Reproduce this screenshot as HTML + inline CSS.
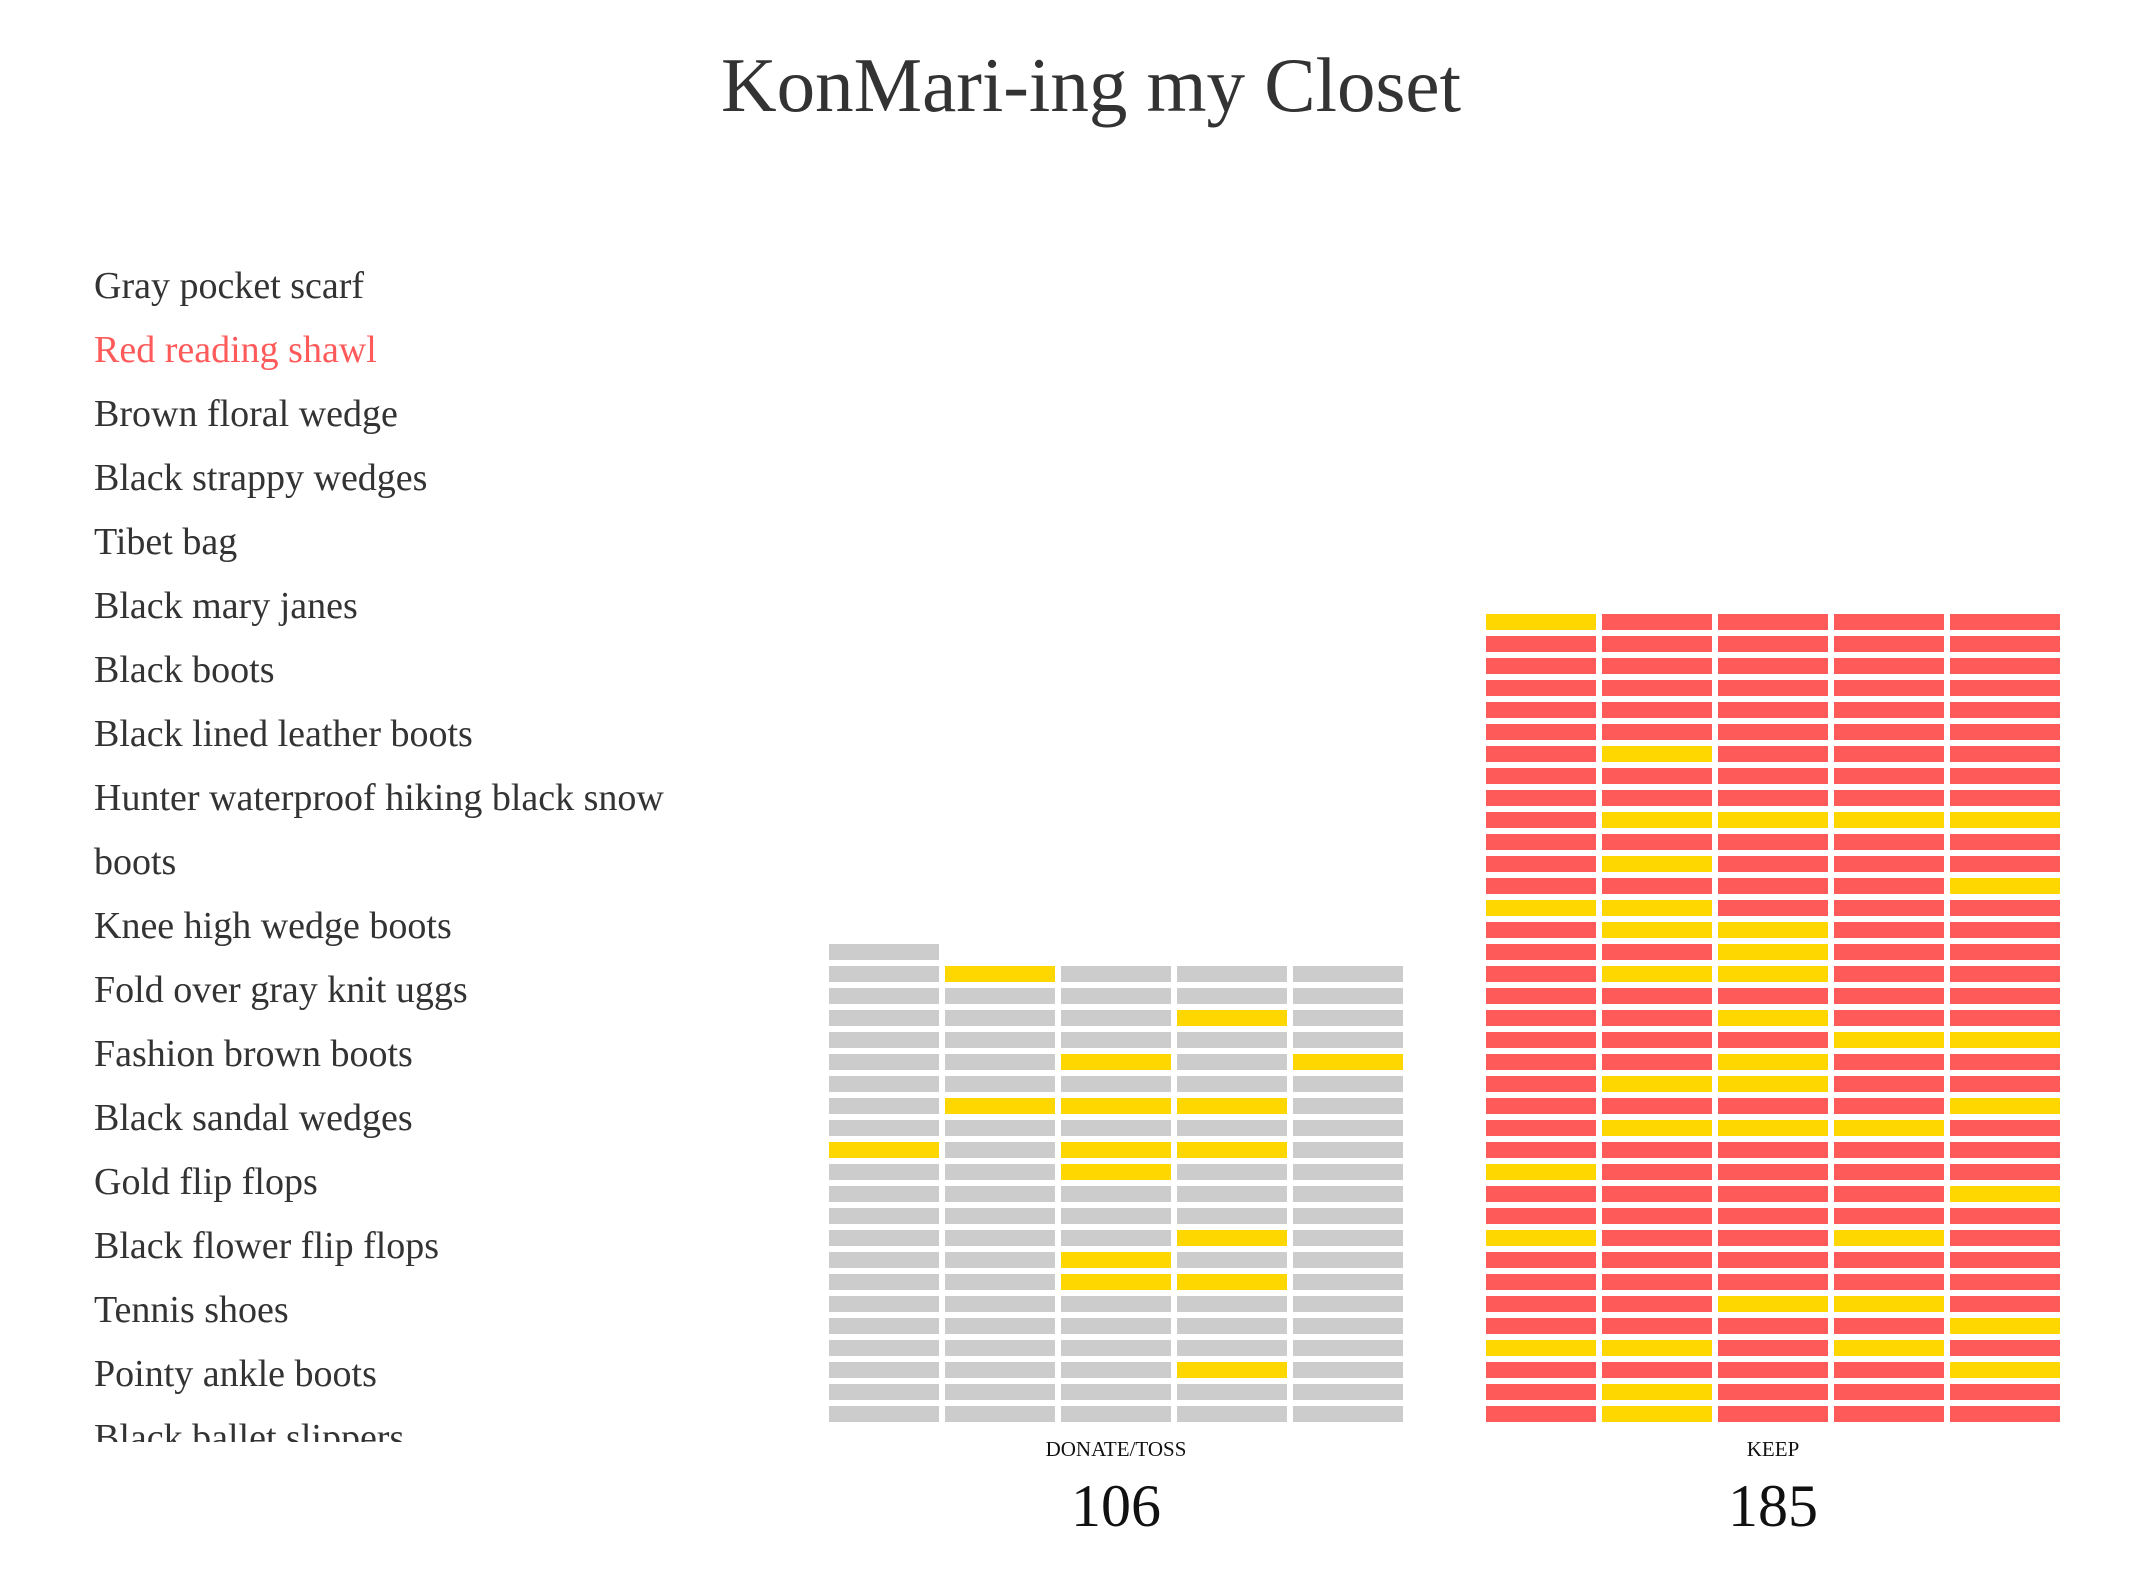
<!DOCTYPE html>
<html><head><meta charset="utf-8"><style>
html,body{margin:0;padding:0;background:#fff;}
body{width:2136px;height:1574px;overflow:hidden;position:relative;font-family:"Liberation Serif",serif;}
#title{position:absolute;left:0;width:2182px;top:0;text-align:center;font-size:77px;color:#333;line-height:150px;height:150px;}
#list{position:absolute;left:94px;top:254px;width:720px;height:1188px;overflow:hidden;font-size:38px;color:#333;}
#list div{height:64px;line-height:64px;white-space:nowrap;}
svg{position:absolute;left:0;top:0;}
</style></head><body>
<div id="title" style="top:10px">KonMari-ing my Closet</div>
<div id="list">
<div>Gray pocket scarf</div>
<div style="color:#ff5a5a">Red reading shawl</div>
<div>Brown floral wedge</div>
<div>Black strappy wedges</div>
<div>Tibet bag</div>
<div>Black mary janes</div>
<div>Black boots</div>
<div>Black lined leather boots</div>
<div>Hunter waterproof hiking black snow</div>
<div>boots</div>
<div>Knee high wedge boots</div>
<div>Fold over gray knit uggs</div>
<div>Fashion brown boots</div>
<div>Black sandal wedges</div>
<div>Gold flip flops</div>
<div>Black flower flip flops</div>
<div>Tennis shoes</div>
<div>Pointy ankle boots</div>
<div>Black ballet slippers</div>
</div>
<svg id="chart" width="2136" height="1574" xmlns="http://www.w3.org/2000/svg"></svg>
<script>
const groupNames = ["DONATE/TOSS", "KEEP"];
const groupCounts = [106, 185];
const donateHighlights = [101, 93, 82, 84, 71, 72, 73, 60, 62, 63, 57, 43, 37, 32, 33, 13];
const keepHighlights = [180, 151, 136, 137, 138, 139, 126, 124, 115, 116, 111, 112, 107, 101, 102, 92, 88, 89, 82, 76, 77, 74, 66, 67, 68, 55, 54, 40, 43, 27, 28, 24, 15, 16, 18, 14, 6, 1];
const groupColors = ["#cccccc", "#ff5a5a"];

const svg = document.getElementById('chart');
const NS = "http://www.w3.org/2000/svg";
const COLS = 5, CELL_W = 110, CELL_H = 16, COL_PITCH = 116, ROW_PITCH = 22, BASE_Y = 1406;
const groupX = [829, 1486];
const highlights = [donateHighlights, keepHighlights];
function xPos(g, i) { return groupX[g] + (i % COLS) * COL_PITCH; }
function yPos(i) { return BASE_Y - Math.floor(i / COLS) * ROW_PITCH; }

groupCounts.forEach((count, g) => {
  const hs = new Set(highlights[g]);
  for (let i = 0; i < count; i++) {
    const r = document.createElementNS(NS, 'rect');
    r.setAttribute('x', xPos(g, i));
    r.setAttribute('y', yPos(i));
    r.setAttribute('width', CELL_W);
    r.setAttribute('height', CELL_H);
    r.setAttribute('fill', hs.has(i) ? '#fed700' : groupColors[g]);
    
    
    svg.appendChild(r);
  }
  const cx = groupX[g] + (COLS * COL_PITCH - (COL_PITCH - CELL_W)) / 2;
  const lab = document.createElementNS(NS, 'text');
  lab.setAttribute('x', cx); lab.setAttribute('y', 1456);
  lab.setAttribute('text-anchor', 'middle');
  lab.setAttribute('font-family', 'Liberation Serif, serif');
  lab.setAttribute('font-size', '21'); lab.setAttribute('fill', '#111');
  lab.textContent = groupNames[g];
  
  
  svg.appendChild(lab);
  const num = document.createElementNS(NS, 'text');
  num.setAttribute('x', cx); num.setAttribute('y', 1526);
  num.setAttribute('text-anchor', 'middle');
  num.setAttribute('font-family', 'Liberation Serif, serif');
  num.setAttribute('font-size', '60'); num.setAttribute('fill', '#111');
  num.textContent = count;
  
  
  svg.appendChild(num);
});
</script>
</body></html>
